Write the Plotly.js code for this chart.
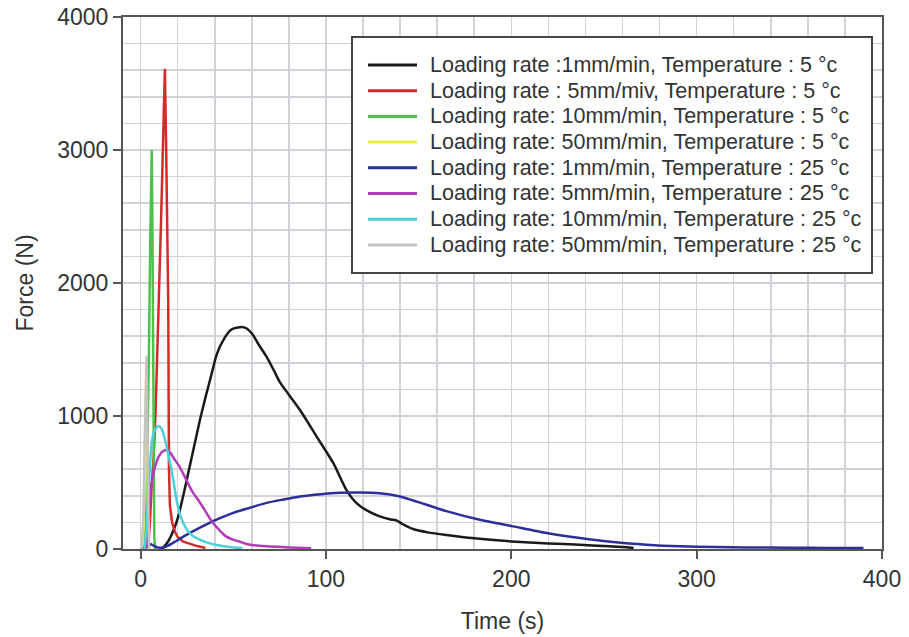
<!DOCTYPE html>
<html>
<head>
<meta charset="utf-8">
<script src="https://cdn.plot.ly/plotly-3.0.1.min.js"></script>
<style>html,body{margin:0;padding:0;background:#fff;}#chart{width:909px;height:637px;}</style>
</head>
<body>
<div id="chart"></div>
<script>
// Series names (legend)
const names = [
  "Loading rate :1mm/min, Temperature : 5 °c",
  "Loading rate : 5mm/miv, Temperature : 5 °c",
  "Loading rate: 10mm/min, Temperature : 5 °c",
  "Loading rate: 50mm/min, Temperature : 5 °c",
  "Loading rate: 1mm/min, Temperature : 25 °c",
  "Loading rate: 5mm/min, Temperature : 25 °c",
  "Loading rate: 10mm/min, Temperature : 25 °c",
  "Loading rate: 50mm/min, Temperature : 25 °c"
];
const colors = ["#1a1a1a", "#d42a2a", "#4cc24c", "#f0ec3c", "#2b2f9a", "#b03cb8", "#4ccfd8", "#c4c4c4"];
const xTicks = [0, 100, 200, 300, 400];
const yTicks = [0, 1000, 2000, 3000, 4000];

// 1 mm/min, 5 °C
const t_1mm_5C = [10, 12, 15, 18, 20, 23, 26, 29, 32, 35, 38, 41, 45, 49, 54.5, 57, 60.6, 64, 68, 72, 75, 80, 86, 95, 104, 111, 116.5, 122, 129, 135, 138, 141, 147, 155, 165, 180, 200, 220, 237, 250, 260, 266];
const f_1mm_5C = [0, 10, 60, 150, 230, 400, 590, 780, 970, 1140, 1300, 1460, 1580, 1650, 1670, 1660, 1610, 1530, 1445, 1340, 1257, 1160, 1045, 845, 645, 445, 345, 290, 245, 222, 215, 190, 150, 125, 105, 80, 57, 42, 32, 22, 15, 8];
// 5 mm/min, 5 °C
const t_5mm_5C = [4, 5, 6, 7, 8, 9, 10, 11, 12, 13.1, 13.8, 14.4, 14.9, 15.1, 15.3, 15.8, 17, 18.5, 20, 23, 27, 31, 35];
const f_5mm_5C = [0, 200, 480, 680, 1000, 1450, 1950, 2450, 3000, 3610, 3000, 2400, 1870, 1200, 600, 330, 200, 130, 90, 55, 35, 20, 8];
// 10 mm/min, 5 °C
const t_10mm_5C = [1.8, 2.5, 3.2, 3.8, 4.5, 5.2, 6.0, 6.3, 6.5, 6.7, 6.9, 7.1, 7.4, 7.8];
const f_10mm_5C = [0, 80, 350, 800, 1500, 2300, 3000, 2600, 2000, 1300, 700, 300, 80, 0];
// 50 mm/min, 5 °C
const t_50mm_5C = [1, 1.8, 2.5, 3.1, 3.5, 3.9, 4.3];
const f_50mm_5C = [0, 300, 900, 1350, 800, 250, 0];
// 1 mm/min, 25 °C
const t_1mm_25C = [0, 2, 4, 5.5, 7, 9, 12, 14, 18, 24, 32, 40, 50, 59, 68, 77, 86, 97, 107.5, 118, 129, 140, 147, 156, 165, 183, 201, 219, 237, 255, 273, 291, 310, 327, 350, 370, 390];
const f_1mm_25C = [0, 10, 25, 35, 25, 12, 10, 20, 50, 100, 160, 215, 272, 310, 347, 372, 395, 412, 422, 425, 420, 395, 365, 325, 285, 220, 170, 120, 82, 52, 32, 20, 15, 12, 10, 8, 7];
// 5 mm/min, 25 °C
const t_5mm_25C = [2.5, 3.5, 4.2, 5, 6, 8, 10, 12, 14, 16, 18, 21, 25, 28, 32, 36, 39, 43, 46, 50, 55, 59, 68, 80, 92];
const f_5mm_25C = [0, 60, 200, 400, 500, 630, 700, 735, 745, 725, 680, 620, 510, 430, 350, 260, 197, 135, 95, 70, 48, 32, 20, 12, 5];
// 10 mm/min, 25 °C
const t_10mm_25C = [2, 3, 4, 5, 6, 7.5, 9.5, 11, 12.5, 14, 16, 17.6, 19, 21, 23, 25, 28, 32, 36, 41, 48, 55];
const f_10mm_25C = [0, 120, 380, 620, 800, 890, 925, 910, 860, 770, 640, 520, 400, 270, 195, 145, 100, 70, 48, 30, 15, 5];
// 50 mm/min, 25 °C
const t_50mm_25C = [0.5, 1.5, 2.2, 2.8, 3.2, 3.6, 4.0, 4.5];
const f_50mm_25C = [0, 250, 800, 1300, 1450, 900, 300, 0];

const xs = [t_1mm_5C, t_5mm_5C, t_10mm_5C, t_50mm_5C, t_1mm_25C, t_5mm_25C, t_10mm_25C, t_50mm_25C];
const ys = [f_1mm_5C, f_5mm_5C, f_10mm_5C, f_50mm_5C, f_1mm_25C, f_5mm_25C, f_10mm_25C, f_50mm_25C];
const smooth = [true, false, false, false, true, true, true, false];

const traces = names.map((n, i) => ({
  type: 'scatter', mode: 'lines', name: n, showlegend: false,
  x: xs[i], y: ys[i],
  line: smooth[i] ? {color: colors[i], width: 2.5, shape: 'spline', smoothing: 0.6}
                  : {color: colors[i], width: 2.5}
}));

// Plot area geometry (pixels)
const W = 909, H = 637;
const M = {l: 123, r: 27, t: 17, b: 88};
const PW = W - M.l - M.r, PH = H - M.t - M.b;
const px2x = p => (p - M.l) / PW;
const py2y = p => (H - M.b - p) / PH;

// Legend drawn as a boxed key (line samples + real text)
const legBox = {x0: 352, x1: 872, y0: 37, y1: 273};
const rowTop = 65, rowGap = 25.7;
const shapes = [{
  type: 'rect', xref: 'paper', yref: 'paper', layer: 'above',
  x0: px2x(legBox.x0), x1: px2x(legBox.x1), y0: py2y(legBox.y1), y1: py2y(legBox.y0),
  fillcolor: '#fff', line: {color: '#444', width: 2}
}];
const annotations = [];
names.forEach((n, i) => {
  const ry = rowTop + i * rowGap;
  shapes.push({
    type: 'line', xref: 'paper', yref: 'paper', layer: 'above',
    x0: px2x(368), x1: px2x(417), y0: py2y(ry), y1: py2y(ry),
    line: {color: colors[i], width: 3}
  });
  annotations.push({
    xref: 'paper', yref: 'paper', x: px2x(428), y: py2y(ry),
    xanchor: 'left', yanchor: 'middle', showarrow: false, text: n,
    font: {size: 21.5, color: '#333'}
  });
});

const gridc = '#d2d2d8';
const layout = {
  width: W, height: H,
  margin: M,
  paper_bgcolor: '#fff', plot_bgcolor: '#fff',
  font: {family: 'Liberation Sans, Arial, sans-serif', color: '#333'},
  showlegend: false,
  shapes: shapes,
  annotations: annotations,
  xaxis: {
    range: [-9.5, 400], tickvals: xTicks,
    showgrid: true, gridcolor: gridc, gridwidth: 1.5,
    minor: {dtick: 20, tick0: 0, showgrid: true, gridcolor: gridc, gridwidth: 1.5},
    zeroline: false, showline: true, mirror: true, linecolor: '#555', linewidth: 2,
    ticks: 'outside', ticklen: 8, tickwidth: 2, tickcolor: '#555',
    tickfont: {size: 23, color: '#333'},
    title: {text: 'Time (s)', font: {size: 23, color: '#333'}, standoff: 22}
  },
  yaxis: {
    range: [0, 4000], tickvals: yTicks,
    showgrid: true, gridcolor: gridc, gridwidth: 1.5,
    minor: {dtick: 200, tick0: 0, showgrid: true, gridcolor: gridc, gridwidth: 1.5},
    zeroline: false, showline: true, mirror: true, linecolor: '#555', linewidth: 2,
    ticks: 'outside', ticklen: 8, tickwidth: 2, tickcolor: '#555',
    tickfont: {size: 23, color: '#333'},
    title: {text: 'Force (N)', font: {size: 23, color: '#333'}, standoff: 17}
  }
};

Plotly.newPlot('chart', traces, layout, {displayModeBar: false, staticPlot: true});
</script>
</body>
</html>
